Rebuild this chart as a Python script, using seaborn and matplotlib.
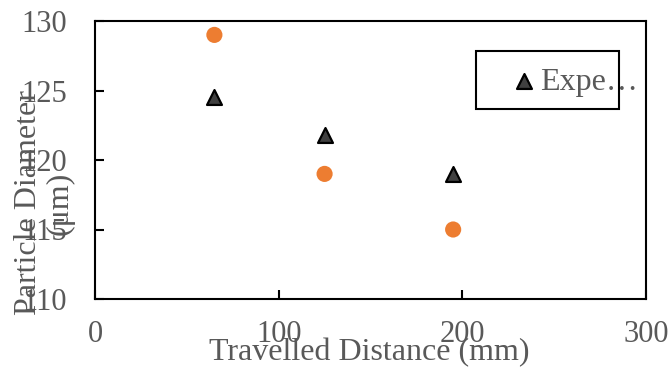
import matplotlib
matplotlib.use("Agg")
import matplotlib.pyplot as plt
from matplotlib.patches import Rectangle
import seaborn as sns
import pandas as pd

sns.set_style("white")
plt.rcParams["font.family"] = ["Liberation Serif", "DejaVu Serif"]

GREY_TEXT = "#595959"
ORANGE = "#ED7D31"
DARK = "#404040"

# data
distance_mm = [65, 125, 195]
exp_diameter = [124.5, 121.8, 119.0]
model_diameter = [129.0, 119.0, 115.0]

df_exp = pd.DataFrame({"x": distance_mm, "y": exp_diameter})
df_mod = pd.DataFrame({"x": distance_mm, "y": model_diameter})

W, H = 670, 371
fig = plt.figure(figsize=(6.7, 3.71), dpi=100)
ax = fig.add_axes([95 / W, 1 - 299 / H, (646 - 95) / W, (299 - 21) / H])

sns.scatterplot(data=df_mod, x="x", y="y", ax=ax, color=ORANGE, s=135,
                marker="o", edgecolor="none", legend=False)
sns.scatterplot(data=df_exp, x="x", y="y", ax=ax, color=DARK, s=115,
                marker="^", edgecolor="black", linewidth=1.6, label="Expe\u2026")

ax.set_xlim(0, 300)
ax.set_ylim(110, 130)
ax.set_xticks([0, 100, 200, 300])
ax.set_yticks([110, 115, 120, 125, 130])
ax.set_xlabel("")
ax.set_ylabel("")

for side in ["top", "right", "left", "bottom"]:
    ax.spines[side].set_visible(True)
    ax.spines[side].set_color("black")
    ax.spines[side].set_linewidth(1.5)

ax.tick_params(axis="both", direction="in", length=6.5, width=1.5,
               labelsize=22, labelcolor=GREY_TEXT, color="black")
ax.tick_params(axis="x", pad=15, bottom=True)
ax.tick_params(axis="y", pad=20, left=True)

# legend: fixed box, text runs past its right edge as in the original
leg = ax.legend(loc="center left", bbox_to_anchor=(508 / W, 1 - 82 / H),
                bbox_transform=fig.transFigure, frameon=False, fontsize=23,
                handletextpad=0.0, borderpad=0, borderaxespad=0,
                handlelength=1.0, labelcolor=GREY_TEXT)
fig.patches.append(Rectangle((476 / W, 1 - 109 / H), (619 - 476) / W, (109 - 51) / H,
                             transform=fig.transFigure, fill=False,
                             edgecolor="black", linewidth=1.5, zorder=1))

fig.text(369 / W, 1 - 353 / H, "Travelled Distance (mm)", ha="center",
         va="center", fontsize=23, color=GREY_TEXT)
fig.text(44 / W, 1 - 203 / H, "Particle Diameter\n(\u03bcm)", ha="center",
         va="center", rotation=90, fontsize=23, color=GREY_TEXT,
         linespacing=1.1, multialignment="center")

fig.savefig("out.png", dpi=100)
